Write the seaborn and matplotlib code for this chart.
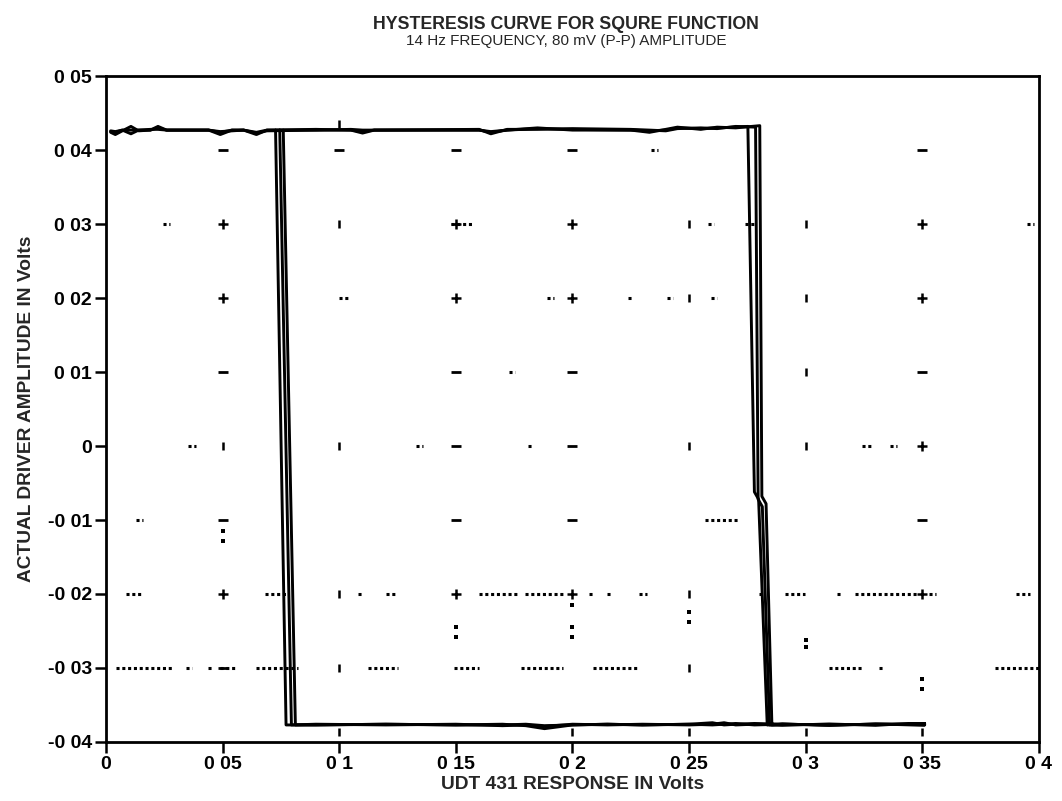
import numpy as np
import pandas as pd
import matplotlib
matplotlib.use("Agg")
import matplotlib.pyplot as plt
import seaborn as sns

# ---------------- data ----------------
x_ticks = [0.0, 0.05, 0.1, 0.15, 0.2, 0.25, 0.3, 0.35, 0.4]
x_tick_labels = ["0", "0 05", "0 1", "0 15", "0 2", "0 25", "0 3", "0 35", "0 4"]
y_ticks = [-0.04, -0.03, -0.02, -0.01, 0.0, 0.01, 0.02, 0.03, 0.04, 0.05]
y_tick_labels = ["-0 04", "-0 03", "-0 02", "-0 01", "0", "0 01", "0 02", "0 03", "0 04", "0 05"]

# upper branch of the loops (shared x, one y series per loop)
top_x = [0.002, 0.004, 0.007, 0.0107, 0.014, 0.019, 0.0223, 0.026, 0.044, 0.049,
         0.054, 0.059, 0.0645, 0.069, 0.090, 0.105, 0.110, 0.115, 0.160, 0.165,
         0.172, 0.185, 0.200, 0.225, 0.233, 0.240, 0.245, 0.255, 0.262, 0.270]
top_y1 = [0.0424, 0.0421, 0.0426, 0.0432, 0.0426, 0.0427, 0.0432, 0.0427, 0.0427, 0.0421,
          0.0427, 0.0427, 0.0421, 0.0427, 0.0427, 0.0427, 0.0423, 0.0427, 0.0427, 0.0424,
          0.0427, 0.0429, 0.0428, 0.0427, 0.0424, 0.0428, 0.0431, 0.0428, 0.0431, 0.0430]
top_y2 = [0.0426, 0.0425, 0.0427, 0.0422, 0.0427, 0.0427, 0.0430, 0.0427, 0.0427, 0.0424,
          0.0427, 0.0427, 0.0424, 0.0427, 0.0428, 0.0427, 0.0425, 0.0427, 0.0428, 0.0422,
          0.0428, 0.0428, 0.0429, 0.0428, 0.0427, 0.0426, 0.0429, 0.0430, 0.0429, 0.0432]
top_y3 = [0.0425, 0.0424, 0.0427, 0.0427, 0.0427, 0.0428, 0.0428, 0.0427, 0.0427, 0.0425,
          0.0426, 0.0427, 0.0423, 0.0426, 0.0427, 0.0428, 0.0427, 0.0427, 0.0427, 0.0425,
          0.0427, 0.0430, 0.0427, 0.0427, 0.0426, 0.0427, 0.0430, 0.0429, 0.0430, 0.0431]

# lower branch of the loops
bottom_x = [0.090, 0.120, 0.150, 0.170, 0.180, 0.188, 0.200, 0.215, 0.230, 0.250,
            0.260, 0.265, 0.270, 0.278, 0.290, 0.310, 0.330, 0.351]
bottom_y1 = [-0.0377, -0.0376, -0.0377, -0.0376, -0.0378, -0.0382, -0.0377, -0.0376, -0.0377, -0.0376,
             -0.0374, -0.0377, -0.0376, -0.0375, -0.0376, -0.0377, -0.0376, -0.0376]
bottom_y2 = [-0.0376, -0.0377, -0.0376, -0.0378, -0.0377, -0.0379, -0.0376, -0.0377, -0.0376, -0.0377,
             -0.0376, -0.0374, -0.0377, -0.0376, -0.0377, -0.0376, -0.0377, -0.0375]
bottom_y3 = [-0.0377, -0.0376, -0.0377, -0.0377, -0.0376, -0.0378, -0.0377, -0.0376, -0.0377, -0.0376,
             -0.0377, -0.0376, -0.0375, -0.0377, -0.0376, -0.0377, -0.0376, -0.0377]

# switching edges of each loop
left_top_x = [0.0727, 0.0745, 0.0760]
left_bottom_x = [0.0772, 0.0795, 0.0812]
right_top_x = [0.2803, 0.2785, 0.2752]
right_top_y = [0.0433, 0.0431, 0.0432]
right_kink_x = [0.2812, 0.2796, 0.2780]
right_kink_y = [-0.0068, -0.0072, -0.0062]
right_bottom_x = [0.2855, 0.2845, 0.2835]

# scanned dotted-grid remnants: (x start, x end, y)
dot_runs = [
    (0.0245, 0.0275, 0.03), (0.148, 0.157, 0.03), (0.258, 0.2605, 0.03), (0.274, 0.278, 0.03), (0.395, 0.398, 0.03),
    (0.0997, 0.104, 0.02), (0.189, 0.192, 0.02), (0.224, 0.226, 0.02), (0.2405, 0.243, 0.02), (0.2595, 0.262, 0.02),
    (0.1727, 0.1753, 0.01),
    (0.0352, 0.0387, 0.0), (0.133, 0.136, 0.0), (0.181, 0.183, 0.0), (0.324, 0.328, 0.0), (0.336, 0.339, 0.0),
    (0.013, 0.016, -0.01), (0.257, 0.271, -0.01),
    (0.0086, 0.016, -0.02), (0.068, 0.078, -0.02), (0.108, 0.11, -0.02), (0.12, 0.124, -0.02),
    (0.16, 0.177, -0.02), (0.1795, 0.197, -0.02), (0.207, 0.209, -0.02), (0.2148, 0.2165, -0.02),
    (0.2285, 0.232, -0.02), (0.28, 0.2826, -0.02), (0.2912, 0.2998, -0.02), (0.3136, 0.3153, -0.02),
    (0.3213, 0.348, -0.02), (0.353, 0.3557, -0.02), (0.39, 0.396, -0.02),
    (0.0043, 0.0292, -0.03), (0.0344, 0.037, -0.03), (0.0438, 0.0455, -0.03), (0.049, 0.0558, -0.03),
    (0.0644, 0.0825, -0.03), (0.1125, 0.1254, -0.03), (0.149, 0.16, -0.03), (0.178, 0.196, -0.03),
    (0.2088, 0.2285, -0.03), (0.31, 0.324, -0.03), (0.3316, 0.3333, -0.03), (0.381, 0.4, -0.03),
    (0.2335, 0.2365, 0.04),
]
dash_x = [0.05, 0.10, 0.15, 0.20, 0.35, 0.05, 0.15, 0.20, 0.35, 0.15, 0.20, 0.05, 0.15, 0.20, 0.35, 0.05]
dash_y = [0.04, 0.04, 0.04, 0.04, 0.04, 0.01, 0.01, 0.01, 0.01, 0.0, 0.0, -0.01, -0.01, -0.01, -0.01, -0.03]
plus_x = [0.05, 0.15, 0.20, 0.35, 0.05, 0.15, 0.20, 0.35, 0.35, 0.05, 0.15, 0.20, 0.35]
plus_y = [0.03, 0.03, 0.03, 0.03, 0.02, 0.02, 0.02, 0.02, 0.0, -0.02, -0.02, -0.02, -0.02]
bar_x = [0.10, 0.25, 0.30, 0.25, 0.30, 0.05, 0.10, 0.25, 0.30, 0.30, 0.10, 0.25, 0.10, 0.25, 0.10,
         0.10, 0.20, 0.25, 0.30, 0.35]
bar_y = [0.03, 0.03, 0.03, 0.02, 0.02, 0.0, 0.0, 0.0, 0.0, 0.01, -0.02, -0.02, -0.03, -0.03, 0.0435,
         -0.0386, -0.0386, -0.0386, -0.0386, -0.0386]
speck_x = [0.05, 0.05, 0.15, 0.15, 0.20, 0.20, 0.20, 0.25, 0.25, 0.30, 0.30, 0.35, 0.35]
speck_y = [-0.0115, -0.0128, -0.0245, -0.0258, -0.0215, -0.0245, -0.0258, -0.0225, -0.0238,
           -0.0262, -0.0272, -0.0315, -0.0328]

# ---------------- build loop paths ----------------
rows = []
top_ys = [top_y1, top_y2, top_y3]
bot_ys = [bottom_y1, bottom_y2, bottom_y3]
for k in range(3):
    path = []
    for xv, yv in zip(top_x, top_ys[k]):
        path.append((xv, yv))
    path.append((right_top_x[k], right_top_y[k]))
    path.append((right_kink_x[k], right_kink_y[k]))
    path.append((right_kink_x[k] + 0.0018, right_kink_y[k] - 0.0010))
    path.append((right_bottom_x[k], -0.0377))
    for xv, yv in zip(bottom_x, bot_ys[k]):
        if xv > right_bottom_x[k]:
            path.append((xv, yv))
    for xv, yv in reversed(list(zip(bottom_x, bot_ys[k]))):
        path.append((xv, yv))
    path.append((left_bottom_x[k], -0.0377))
    path.append((left_top_x[k], 0.0427))
    for i, (xv, yv) in enumerate(path):
        rows.append({"x": xv, "y": yv, "loop": f"L{k}", "order": i})
df = pd.DataFrame(rows)

# ---------------- plot ----------------
sns.set_style("ticks")
plt.rcParams["font.family"] = ["Liberation Sans", "DejaVu Sans"]

fig = plt.figure(figsize=(10.62, 8.01), dpi=100)
ax = fig.add_axes([0.0998, 0.0737, 0.8785, 0.8313])

for (x0, x1, yv) in dot_runs:
    ax.hlines(yv, x0, x1, colors="black", linestyles=(0, (1, 0.9)), linewidth=2.2)

sns.scatterplot(x=dash_x, y=dash_y, marker="_", s=50, color="black", linewidth=2.0, ax=ax)
sns.scatterplot(x=plus_x, y=plus_y, marker="+", s=55, color="black", linewidth=1.8, ax=ax)
sns.scatterplot(x=bar_x, y=bar_y, marker="|", s=35, color="black", linewidth=1.8, ax=ax)
sns.scatterplot(x=speck_x, y=speck_y, marker="s", s=6, color="black", linewidth=0, ax=ax)

sns.lineplot(data=df, x="x", y="y", hue="loop", units="loop", estimator=None, sort=False,
             palette=["black", "black", "black"], linewidth=2.1, legend=False, ax=ax)

ax.set_xlim(0, 0.4)
ax.set_ylim(-0.04, 0.05)
ax.set_xticks(x_ticks)
ax.set_xticklabels(x_tick_labels)
ax.set_yticks(y_ticks)
ax.set_yticklabels(y_tick_labels)
for lab in ax.get_xticklabels() + ax.get_yticklabels():
    lab.set_fontweight("bold")
    lab.set_fontsize(14)
ax.tick_params(direction="out", length=8, width=1.8, pad=2, colors="black")
for sp in ax.spines.values():
    sp.set_visible(True)
    sp.set_linewidth(2.0)
    sp.set_color("black")

ax.set_xlabel("UDT 431 RESPONSE IN Volts", fontsize=13.8, fontweight="bold", labelpad=2)
ax.set_ylabel("ACTUAL DRIVER AMPLITUDE IN Volts", fontsize=13.8, fontweight="bold", labelpad=9)

fig.text(0.533, 1 - 29 / 801, "HYSTERESIS CURVE FOR SQURE FUNCTION", ha="center", va="baseline",
         fontsize=12.8, fontweight="bold")
fig.text(0.533, 1 - 45 / 801, "14 Hz FREQUENCY, 80 mV (P-P) AMPLITUDE", ha="center", va="baseline",
         fontsize=11)

fig.savefig("out.png", dpi=100)
